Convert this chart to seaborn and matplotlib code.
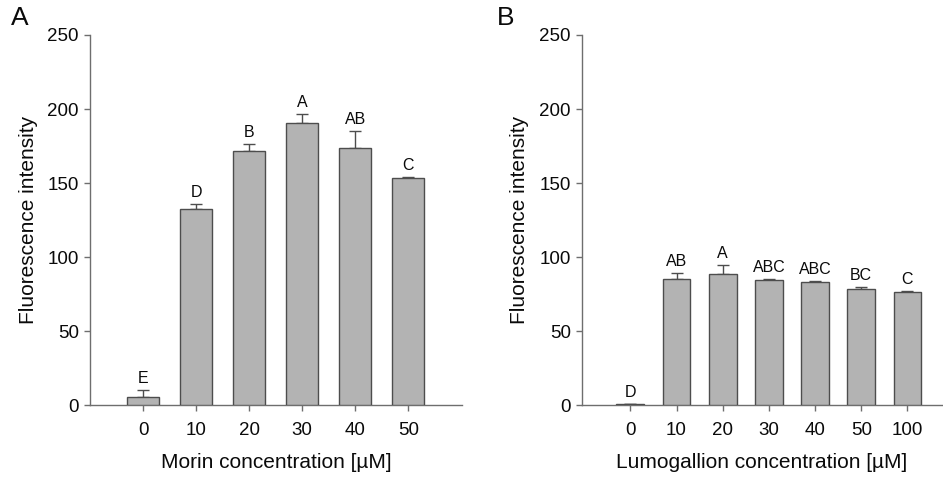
#!/usr/bin/env python3
"""Fluorescence intensity vs. morin / lumogallion concentration."""

import numpy as np
import pandas as pd
import matplotlib
matplotlib.use("Agg")
import matplotlib.pyplot as plt
import seaborn as sns

# panel A: morin
morin_conc = ["0", "10", "20", "30", "40", "50"]
morin_mean = [5.3, 132.8, 171.5, 190.5, 174.0, 153.3]
morin_err = [5.2, 3.0, 5.0, 6.0, 11.0, 1.0]
morin_letters = ["E", "D", "B", "A", "AB", "C"]

# panel B: lumogallion
lumo_conc = ["0", "10", "20", "30", "40", "50", "100"]
lumo_mean = [0.5, 85.0, 88.6, 84.5, 83.0, 78.7, 76.7]
lumo_err = [0.3, 4.0, 6.0, 0.4, 1.0, 1.0, 0.6]
lumo_letters = ["D", "AB", "A", "ABC", "ABC", "BC", "C"]

BAR_COLOR = "#b3b3b3"
EDGE_COLOR = "#4d4d4d"
AXIS_COLOR = "#6e6e6e"
TEXT_COLOR = "#0a0a0a"

sns.set_style("ticks")
plt.rcParams["font.family"] = ["Liberation Sans", "DejaVu Sans"]


def draw_panel(ax, conc, mean, err, letters, xlabel, xlim):
    df = pd.DataFrame({"conc": conc, "mean": mean})
    sns.barplot(data=df, x="conc", y="mean", order=conc, color=BAR_COLOR,
                edgecolor=EDGE_COLOR, linewidth=1.0, width=0.6,
                saturation=1, errorbar=None, ax=ax, zorder=3)
    pos = np.arange(len(conc))
    ax.errorbar(pos, mean, yerr=[np.zeros(len(err)), err], fmt="none",
                ecolor=EDGE_COLOR, elinewidth=1.0, capsize=4.5, capthick=1.0, zorder=2)
    for x, m, e, lab in zip(pos, mean, err, letters):
        ax.annotate(lab, (x, m + e), xytext=(0, 3), textcoords="offset points",
                    ha="center", va="bottom", fontsize=11.5, color=TEXT_COLOR)
    ax.set_xlim(*xlim)
    ax.set_ylim(0, 250)
    ax.set_yticks([0, 50, 100, 150, 200, 250])
    ax.set_xlabel(xlabel, fontsize=15, labelpad=10, color=TEXT_COLOR)
    ax.set_ylabel("Fluorescence intensity", fontsize=15, labelpad=7, color=TEXT_COLOR)
    ax.tick_params(axis="both", direction="out", length=4, width=1.0,
                   color=AXIS_COLOR, labelsize=13.5, labelcolor=TEXT_COLOR, pad=4)
    ax.tick_params(axis="x", pad=8)
    for side in ["top", "right"]:
        ax.spines[side].set_visible(False)
    for side in ["left", "bottom"]:
        ax.spines[side].set_color(AXIS_COLOR)
        ax.spines[side].set_linewidth(1.0)


fig = plt.figure(figsize=(9.43, 4.79), dpi=100)
ax_a = fig.add_axes([0.0954, 0.154, 0.395, 0.773])
ax_b = fig.add_axes([0.617, 0.154, 0.382, 0.773])

draw_panel(ax_a, morin_conc, morin_mean, morin_err, morin_letters,
           "Morin concentration [\u00b5M]", (-1, 6.02))
draw_panel(ax_b, lumo_conc, lumo_mean, lumo_err, lumo_letters,
           "Lumogallion concentration [\u00b5M]", (-1.05, 6.75))

fig.text(0.012, 0.988, "A", fontsize=19, ha="left", va="top", color=TEXT_COLOR)
fig.text(0.527, 0.988, "B", fontsize=19, ha="left", va="top", color=TEXT_COLOR)

fig.savefig("out.png", dpi=100)
